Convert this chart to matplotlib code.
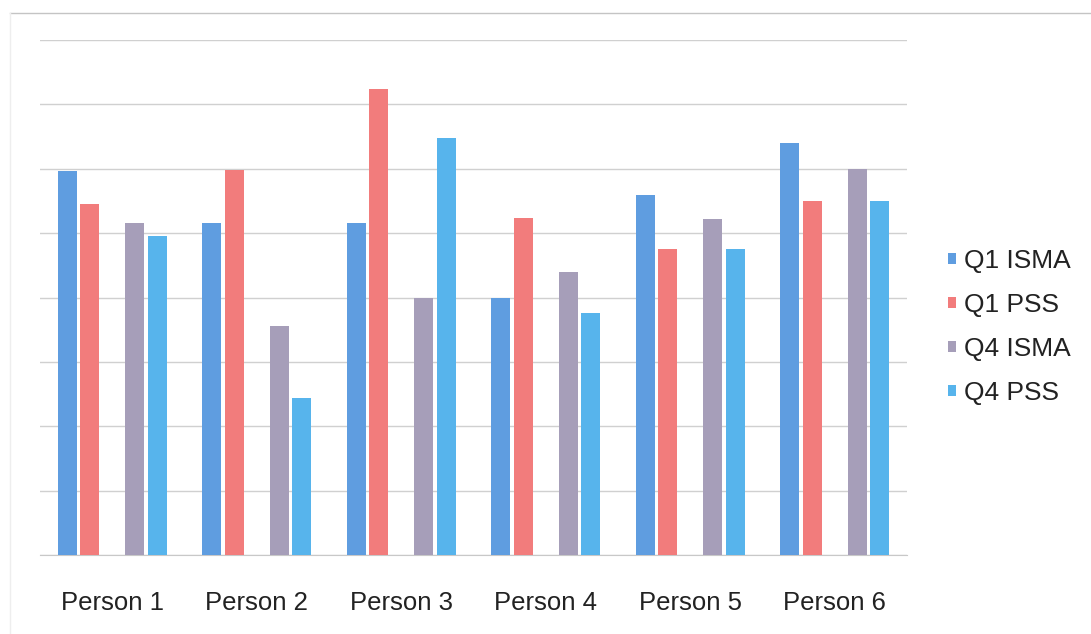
import matplotlib.pyplot as plt
import numpy as np
from matplotlib.patches import Patch
from matplotlib.lines import Line2D

plt.rcParams['font.family'] = ['Liberation Sans', 'DejaVu Sans']

# Données : un score par personne et par série
personnes = ['Person 1', 'Person 2', 'Person 3', 'Person 4', 'Person 5', 'Person 6']
series = ['Q1 ISMA', 'Q1 PSS', 'Q4 ISMA', 'Q4 PSS']
q1_isma = [29.8, 25.8, 25.8, 20.0, 28.0, 32.0]
q1_pss = [27.3, 29.9, 36.2, 26.2, 23.8, 27.5]
q4_isma = [25.8, 17.8, 20.0, 22.0, 26.1, 30.0]
q4_pss = [24.8, 12.2, 32.4, 18.8, 23.8, 27.5]

couleurs = ['#5f9de0', '#f27c7c', '#a69eb9', '#57b4ec']

fig = plt.figure(figsize=(10.91, 6.34), dpi=100)
ax = fig.add_axes([40 / 1091, 79 / 634, 867 / 1091, 515 / 634])

x = np.arange(len(personnes))
largeur = 0.131
pas = 0.155
# emplacement central laissé vide entre Q1 et Q4
decalages = [-2 * pas, -pas, pas, 2 * pas]
valeurs = [q1_isma, q1_pss, q4_isma, q4_pss]

for vals, dx, coul in zip(valeurs, decalages, couleurs):
    ax.bar(x + dx, vals, width=largeur, color=coul, zorder=3)

ax.set_xlim(-0.5, len(personnes) - 0.5)
ax.set_ylim(0, 40)
ax.set_yticks(np.arange(0, 41, 5))
ax.set_yticklabels([])
ax.yaxis.grid(True, color='#d0d0d0', linewidth=1)
ax.tick_params(axis='y', length=0)
ax.set_xticks(x)
ax.set_xticklabels(personnes, fontsize=18.5, color='#222222')
ax.tick_params(axis='x', length=0, pad=26)
for side in ['top', 'right', 'left']:
    ax.spines[side].set_visible(False)
ax.spines['bottom'].set_color('#c8c8c8')

# Légende à droite
handles = [Patch(facecolor=c, edgecolor='none') for c in couleurs]
fig.legend(handles, series, loc='center left', bbox_to_anchor=(924 / 1091, 1 - 327 / 634),
           frameon=False, fontsize=19, handlelength=0.3, handleheight=0.3,
           handletextpad=0.3, labelspacing=0.76, labelcolor='#222222')

# Cadre du graphique
fig.add_artist(Line2D([10 / 1091, 1.0], [1 - 13 / 634] * 2, color='#c4c4c4', lw=1))
fig.add_artist(Line2D([10 / 1091] * 2, [0.0, 1 - 13 / 634], color='#eeeeee', lw=1))

fig.savefig('out.png', dpi=100)
